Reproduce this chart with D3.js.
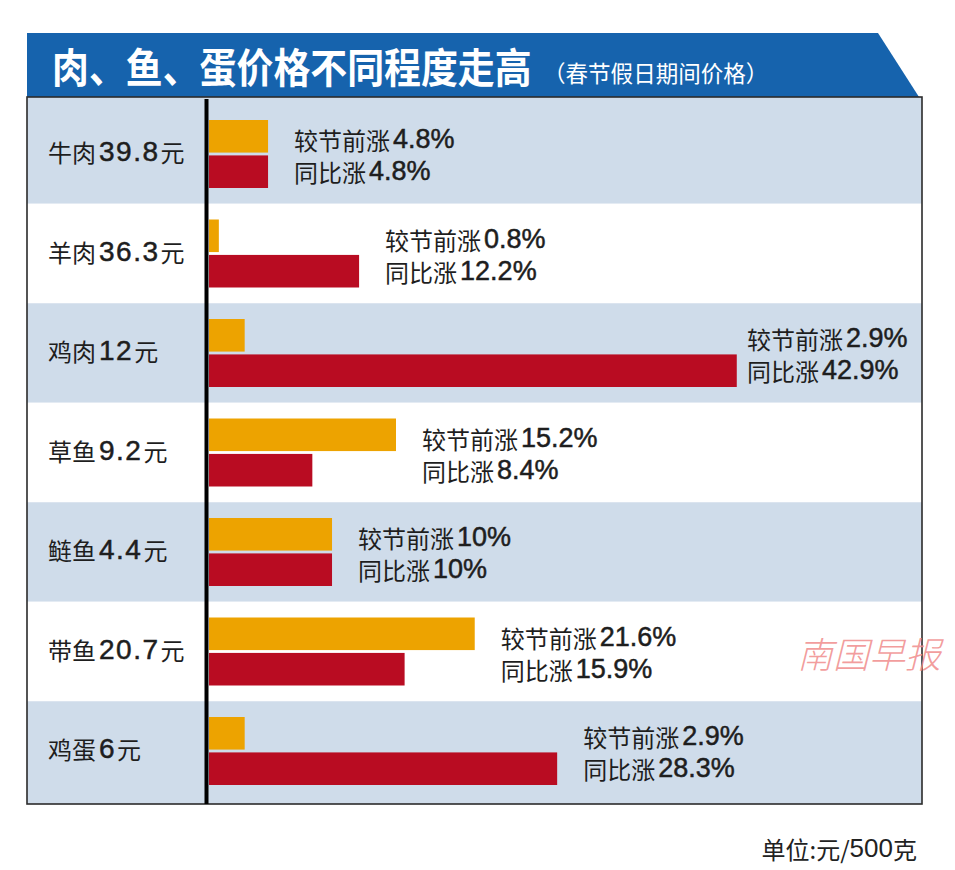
<!DOCTYPE html>
<html>
<head>
<meta charset="utf-8">
<script src="https://cdn.jsdelivr.net/npm/d3@7/dist/d3.min.js"></script>
<style>
  html, body { margin: 0; padding: 0; background: #fff; }
  svg { display: block; }
</style>
</head>
<body>
<svg id="chart" width="955" height="870"></svg>
<script>
// ---- data ----
const categories = ["牛肉", "羊肉", "鸡肉", "草鱼", "鲢鱼", "带鱼", "鸡蛋"];
const prices     = [39.8, 36.3, 12, 9.2, 4.4, 20.7, 6];           // 元/500克
const preHoliday = [4.8, 0.8, 2.9, 15.2, 10, 21.6, 2.9];          // 较节前涨 %
const yearOnYear = [4.8, 12.2, 42.9, 8.4, 10, 15.9, 28.3];        // 同比涨 %
const seriesKeys   = ["pre", "yoy"];
const seriesLabels = ["较节前涨", "同比涨"];
const titleText    = "肉、鱼、蛋价格不同程度走高";
const subtitleText = "（春节假日期间价格）";
const unitText     = ["单位:元/", "500", "克"];
const watermark    = "南国早报";

const rows = categories.map((c, i) => ({
  name: c, price: prices[i], pre: preHoliday[i], yoy: yearOnYear[i]
}));

// ---- layout ----
const svg = d3.select("#chart");
const W = 955, H = 870;
const tableLeft = 27, tableRight = 922, tableTop = 97, tableBottom = 804;
const axisX = 206.5;
const barStart = 209;
const CJK = "'Noto Sans CJK SC', 'Noto Sans', sans-serif";
const NUM = "'Liberation Sans', Arial, sans-serif";
const colors = { pre: "#eda300", yoy: "#b90c22" };
const rowBlue = "#cfdcea";
const headerBlue = "#1663ad";

svg.append("rect").attr("width", W).attr("height", H).attr("fill", "#fff");

// scales
const y = d3.scaleBand().domain(categories).range([104.25, 800.75]);
const inner = d3.scaleBand().domain(seriesKeys).range([-34, 34]).paddingInner(0.08);
const x = d3.scaleLinear().domain([0, 43]).range([barStart, 738]);

// header band
svg.append("path")
  .attr("d", d3.line()([[tableLeft, 33], [878, 33], [919, 97], [tableLeft, 97]]) + "Z")
  .attr("fill", headerBlue);

svg.append("g")
  .attr("transform", "translate(52,83) scale(0.9,1)")
  .append("text")
  .attr("x", 0).attr("y", 0)
  .attr("font-family", CJK).attr("font-weight", 700)
  .attr("font-size", 41).attr("fill", "#fff")
  .text(titleText);

svg.append("g")
  .attr("transform", "translate(543,82) scale(0.98,1)")
  .append("text")
  .attr("x", 0).attr("y", 0)
  .attr("font-family", CJK).attr("font-size", 23).attr("fill", "#fff")
  .text(subtitleText);

// row backgrounds
const g = svg.append("g");
g.selectAll("rect.rowbg")
  .data(rows)
  .join("rect")
  .attr("class", "rowbg")
  .attr("x", tableLeft)
  .attr("width", tableRight - tableLeft)
  .attr("y", (d, i) => i === 0 ? tableTop : y(d.name))
  .attr("height", (d, i) => {
    const top = i === 0 ? tableTop : y(d.name);
    const bot = i === rows.length - 1 ? tableBottom : y(d.name) + y.step();
    return bot - top;
  })
  .attr("fill", (d, i) => i % 2 === 0 ? rowBlue : "#fff");

// bars
const groups = g.selectAll("g.grp")
  .data(rows)
  .join("g")
  .attr("class", "grp")
  .attr("transform", d => `translate(0,${y(d.name) + y.bandwidth() / 2})`);

groups.selectAll("rect.bar")
  .data(d => seriesKeys.map(k => ({ key: k, value: d[k] })))
  .join("rect")
  .attr("class", "bar")
  .attr("x", x(0))
  .attr("y", d => inner(d.key))
  .attr("width", d => x(d.value) - x(0))
  .attr("height", inner.bandwidth())
  .attr("fill", d => colors[d.key]);

// value labels
groups.each(function (d) {
  const gg = d3.select(this);
  const end = Math.max(x(d.pre), x(d.yoy));
  const lx = Math.min(end + 26, 747);
  const lines = [
    { label: seriesLabels[0], v: d.pre, dy: -15 },
    { label: seriesLabels[1], v: d.yoy, dy: 17 }
  ];
  lines.forEach(l => {
    const t = gg.append("text")
      .attr("x", lx).attr("y", l.dy)
      .attr("dominant-baseline", "central")
      .attr("fill", "#1e1e1e");
    t.append("tspan").attr("font-family", CJK).attr("font-size", 24).text(l.label);
    t.append("tspan").attr("dx", 3).attr("font-family", NUM).attr("font-size", 27)
      .attr("stroke", "#1e1e1e").attr("stroke-width", 0.5)
      .text(l.v + "%");
  });
});

// category labels
groups.append("text")
  .attr("x", 48).attr("y", -3)
  .attr("dominant-baseline", "central")
  .attr("fill", "#1e1e1e")
  .each(function (d) {
    const t = d3.select(this);
    t.append("tspan").attr("font-family", CJK).attr("font-size", 24).text(d.name);
    t.append("tspan").attr("dx", 3).attr("font-family", NUM).attr("font-size", 28)
      .attr("letter-spacing", 1.5)
      .attr("stroke", "#1e1e1e").attr("stroke-width", 0.5)
      .text(d.price);
    t.append("tspan").attr("dx", 1).attr("font-family", CJK).attr("font-size", 24).text("元");
  });

// table border & axis line
svg.append("rect")
  .attr("x", tableLeft).attr("y", tableTop)
  .attr("width", tableRight - tableLeft).attr("height", tableBottom - tableTop)
  .attr("fill", "none").attr("stroke", "#2b2b2b").attr("stroke-width", 1.6);

svg.append("line")
  .attr("x1", axisX).attr("x2", axisX)
  .attr("y1", tableTop + 2).attr("y2", tableBottom)
  .attr("stroke", "#000").attr("stroke-width", 4);

// watermark
svg.append("text")
  .attr("x", 797).attr("y", 668)
  .attr("font-family", CJK).attr("font-size", 36).attr("font-weight", 300)
  .attr("font-style", "italic")
  .attr("fill", "#f08c8c").attr("fill-opacity", 0.85)
  .text(watermark);

// unit
const ut = svg.append("text")
  .attr("x", 917).attr("y", 848)
  .attr("text-anchor", "end")
  .attr("dominant-baseline", "central")
  .attr("fill", "#222");
ut.append("tspan").attr("font-family", CJK).attr("font-size", 24).text(unitText[0]);
ut.append("tspan").attr("font-family", NUM).attr("font-size", 26).text(unitText[1]);
ut.append("tspan").attr("font-family", CJK).attr("font-size", 24).text(unitText[2]);
</script>
</body>
</html>
